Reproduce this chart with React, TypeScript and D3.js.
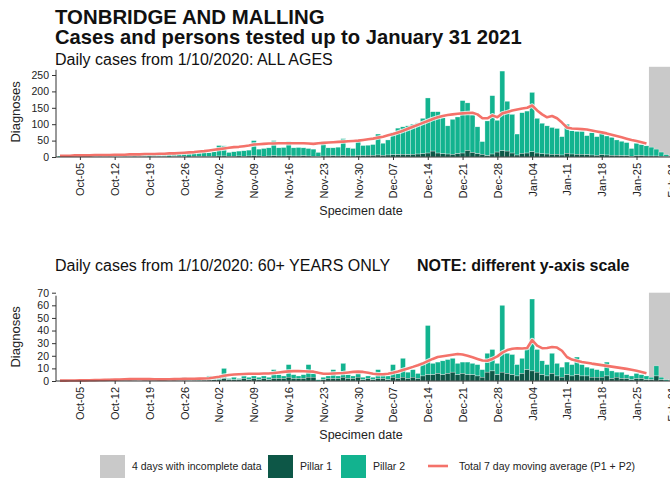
import { useEffect, useRef } from "react";
import * as d3 from "d3";

const FONT = '"Liberation Sans", Arial, Helvetica, sans-serif';
const W = 670;
const H = 483;

const START = Date.UTC(2020, 9, 1);
const AXIS_END = Date.UTC(2021, 1, 1);
const DAY = 86400000;
const INCOMPLETE_DAYS = 4;

const COLOR_P1 = "#0d5747";
const COLOR_P2 = "#12b38f";
const COLOR_MA = "#f4726a";
const COLOR_GREY = "#c9c9c9";

// ALL AGES: pillar 1, pillar 2 per specimen date (1 Oct 2020 - 31 Jan 2021)
const allP1Oct = [0, 1, 0, 0, 1, 0, 0, 1, 0, 1, 0, 0, 1, 0, 1, 0, 1, 1, 0, 1, 1, 1, 0, 1, 2, 1, 0, 2, 1, 2, 1];
const allP1Nov = [2, 3, 3, 2, 2, 3, 2, 3, 4, 3, 2, 3, 4, 3, 3, 4, 3, 3, 4, 3, 2, 1, 3, 3, 4, 3, 4, 3, 3, 4];
const allP1Dec = [4, 5, 5, 6, 5, 6, 7, 7, 8, 7, 8, 9, 10, 12, 18, 12, 10, 9, 8, 10, 12, 20, 14, 10, 8, 4, 9, 15, 19, 18, 12];
const allP1Jan = [6, 11, 12, 16, 12, 10, 9, 8, 8, 6, 11, 9, 8, 8, 7, 6, 5, 7, 6, 5, 5, 4, 4, 2, 4, 4, 3, 3, 3, 2, 1];

const allP2Oct = [3, 4, 2, 4, 5, 3, 4, 4, 4, 5, 7, 3, 4, 6, 7, 6, 8, 6, 10, 11, 7, 10, 9, 12, 10, 13, 10, 13, 11, 12, 12];
const allP2Nov = [14, 32, 31, 12, 14, 15, 17, 18, 46, 21, 24, 25, 46, 25, 26, 44, 25, 26, 24, 23, 22, 13, 44, 25, 24, 27, 52, 25, 23, 49];
const allP2Dec = [31, 31, 33, 64, 37, 46, 68, 81, 84, 88, 92, 95, 108, 168, 120, 126, 110, 86, 107, 112, 160, 145, 114, 82, 39, 106, 178, 97, 243, 152, 118];
const allP2Jan = [64, 124, 128, 181, 106, 93, 86, 82, 79, 56, 89, 71, 70, 70, 58, 68, 57, 65, 58, 55, 47, 44, 40, 24, 38, 34, 31, 27, 21, 13, 6];

// 7 day moving average (ends before the incomplete days)
const allMaOct = [4, 4, 4, 5, 5, 5, 5, 6, 6, 6, 6, 7, 7, 7, 8, 8, 8, 9, 9, 9, 10, 10, 11, 11, 12, 13, 14, 15, 17, 18, 20];
const allMaNov = [22, 24, 26, 28, 30, 31, 33, 35, 38, 39, 40, 41, 41, 42, 42, 42, 42, 42, 42, 41, 40, 42, 43, 44, 45, 46, 47, 48, 49, 50];
const allMaDec = [52, 54, 56, 59, 62, 66, 70, 75, 80, 86, 92, 98, 104, 110, 116, 121, 125, 128, 130, 132, 133, 134, 135, 130, 118, 118, 127, 121, 133, 137, 142];
const allMaJan = [145, 148, 150, 157, 142, 130, 121, 125, 118, 105, 90, 87, 86, 85, 84, 81, 78, 75, 72, 68, 64, 60, 56, 52, 49, 45, 41];

// 60+ YEARS ONLY
const oldP1Oct = [0, 0, 0, 0, 0, 1, 0, 0, 0, 0, 1, 0, 0, 0, 1, 0, 0, 1, 0, 0, 1, 0, 0, 1, 0, 1, 0, 1, 0, 1, 1];
const oldP1Nov = [1, 1, 2, 1, 1, 1, 2, 1, 2, 1, 2, 1, 2, 2, 2, 3, 2, 2, 2, 3, 3, 0, 1, 2, 2, 2, 3, 2, 2, 3];
const oldP1Dec = [1, 2, 1, 2, 2, 1, 3, 2, 3, 2, 3, 2, 4, 5, 5, 6, 5, 6, 7, 5, 6, 5, 5, 4, 3, 7, 8, 5, 7, 6, 5];
const oldP1Jan = [4, 6, 9, 8, 7, 5, 4, 6, 4, 3, 5, 4, 5, 4, 4, 3, 3, 3, 4, 2, 3, 2, 2, 1, 2, 2, 1, 1, 4, 1, 0];

const oldP2Oct = [0, 1, 0, 0, 0, 0, 0, 0, 1, 0, 1, 1, 0, 1, 1, 1, 0, 1, 1, 1, 1, 1, 0, 1, 1, 2, 1, 1, 1, 1, 3];
const oldP2Nov = [2, 2, 8, 1, 2, 1, 2, 2, 2, 2, 2, 2, 7, 3, 2, 10, 3, 2, 3, 10, 3, 1, 2, 2, 7, 2, 11, 3, 2, 3];
const oldP2Dec = [2, 2, 2, 7, 3, 3, 10, 4, 15, 5, 6, 4, 11, 39, 9, 9, 11, 11, 11, 9, 9, 10, 9, 9, 6, 15, 17, 9, 53, 16, 16];
const oldP2Jan = [9, 12, 17, 57, 18, 11, 9, 16, 10, 8, 10, 9, 14, 9, 7, 7, 6, 5, 11, 6, 4, 5, 3, 3, 4, 3, 3, 2, 8, 2, 1];

const oldMaOct = [0.3, 0.3, 0.4, 0.4, 0.5, 0.5, 0.6, 0.7, 0.8, 0.9, 1.0, 1.1, 1.2, 1.4, 1.5, 1.6, 1.6, 1.5, 1.5, 1.4, 1.3, 1.3, 1.4, 1.5, 1.6, 1.7, 1.8, 1.8, 1.9, 2.0, 2.2];
const oldMaNov = [2.8, 3.4, 4.2, 4.8, 5.2, 5.4, 5.6, 5.8, 5.8, 5.8, 5.9, 6.0, 6.3, 6.8, 7.2, 7.6, 7.8, 7.8, 7.7, 7.5, 7.4, 6.5, 5.8, 5.8, 6.0, 6.2, 6.4, 6.8, 7.2, 7.4];
const oldMaDec = [7.2, 6.5, 5.8, 5.4, 5.3, 5.8, 6.6, 7.5, 8.8, 10.0, 11.2, 12.5, 14.0, 15.8, 17.5, 19.0, 19.6, 20.2, 20.8, 21.4, 21.0, 20.0, 18.8, 17.5, 16.2, 16.0, 17.5, 19.5, 22.5, 24.5, 25.5];
const oldMaJan = [26.0, 25.8, 26.2, 32.5, 28.0, 26.0, 26.2, 27.0, 26.5, 24.0, 19.0, 17.0, 16.0, 15.0, 14.5, 13.8, 13.2, 12.6, 12.0, 11.4, 10.8, 10.2, 9.6, 8.9, 8.2, 7.2, 6.2];

const allTicks = [0, 50, 100, 150, 200, 250];
const oldTicks = [0, 10, 20, 30, 40, 50, 60, 70];

const allP1 = [...allP1Oct, ...allP1Nov, ...allP1Dec, ...allP1Jan];
const allP2 = [...allP2Oct, ...allP2Nov, ...allP2Dec, ...allP2Jan];
const allMa = [...allMaOct, ...allMaNov, ...allMaDec, ...allMaJan];
const oldP1 = [...oldP1Oct, ...oldP1Nov, ...oldP1Dec, ...oldP1Jan];
const oldP2 = [...oldP2Oct, ...oldP2Nov, ...oldP2Dec, ...oldP2Jan];
const oldMa = [...oldMaOct, ...oldMaNov, ...oldMaDec, ...oldMaJan];

const dates = allP1.map((_, i) => new Date(START + i * DAY));

type Panel = {
  p1: number[];
  p2: number[];
  ma: number[];
  yMax: number;
  ticks: number[];
  bottom: number;
  top: number;
};

function drawPanel(svg: d3.Selection<SVGSVGElement, unknown, null, undefined>, p: Panel) {
  const x = d3
    .scaleUtc()
    .domain([new Date(START), new Date(AXIS_END)])
    .range([60, 60 + ((AXIS_END - START) / DAY) * 4.97]);
  const bw = x(dates[1]) - x(dates[0]);
  const y = d3.scaleLinear().domain([0, p.yMax]).range([p.bottom, p.top]);
  const g = svg.append("g");

  const incStart = dates[dates.length - INCOMPLETE_DAYS];
  g.append("rect")
    .attr("x", x(incStart) - bw / 2)
    .attr("y", y(p.yMax))
    .attr("width", W - (x(incStart) - bw / 2) + 10)
    .attr("height", y(0) - y(p.yMax))
    .attr("fill", COLOR_GREY);

  const bars = g.append("g").attr("stroke", "#ffffff").attr("stroke-width", 0.45).attr("stroke-opacity", 0.7);
  bars
    .selectAll("rect.p2")
    .data(dates)
    .join("rect")
    .attr("class", "p2")
    .attr("x", (d) => x(d) - bw / 2)
    .attr("width", bw)
    .attr("y", (_, i) => y(p.p1[i] + p.p2[i]))
    .attr("height", (_, i) => y(p.p1[i]) - y(p.p1[i] + p.p2[i]))
    .attr("fill", COLOR_P2);
  bars
    .selectAll("rect.p1")
    .data(dates)
    .join("rect")
    .attr("class", "p1")
    .attr("x", (d) => x(d) - bw / 2)
    .attr("width", bw)
    .attr("y", (_, i) => y(p.p1[i]))
    .attr("height", (_, i) => y(0) - y(p.p1[i]))
    .attr("fill", COLOR_P1);

  const line = d3
    .line<number>()
    .x((_, i) => x(dates[i]))
    .y((v) => y(v));
  g.append("path").attr("d", line(p.ma)).attr("fill", "none").attr("stroke", "#ffffff").attr("stroke-width", 4.5).attr("stroke-opacity", 0.8).attr("stroke-linejoin", "round");
  g.append("path").attr("d", line(p.ma)).attr("fill", "none").attr("stroke", COLOR_MA).attr("stroke-width", 2.6).attr("stroke-linejoin", "round");

  // axes
  const yAxis = g
    .append("g")
    .attr("transform", "translate(56,0)")
    .call(d3.axisLeft(y).tickValues(p.ticks).tickSize(4).tickPadding(3));
  yAxis.select(".domain").remove();
  yAxis.selectAll("line").attr("stroke", "#333");
  yAxis.selectAll("text").attr("font-family", FONT).attr("font-size", 10.5).attr("fill", "#222");
  g.append("line").attr("x1", 56).attr("x2", 56).attr("y1", y(0)).attr("y2", y(p.yMax) + 3).attr("stroke", "#333");

  const xAxis = g
    .append("g")
    .attr("transform", `translate(0,${y(0)})`)
    .call(
      d3
        .axisBottom(x)
        .ticks(d3.utcMonday.every(1))
        .tickFormat((d) => d3.utcFormat("%b-%d")(d as Date))
        .tickSize(3)
    );
  xAxis.select(".domain").remove();
  xAxis.selectAll("line").attr("stroke", "#333");
  xAxis
    .selectAll("text")
    .attr("font-family", FONT)
    .attr("font-size", 11)
    .attr("fill", "#222")
    .attr("transform", "rotate(-90)")
    .attr("x", -6)
    .attr("y", 0)
    .attr("dy", "0.35em")
    .attr("text-anchor", "end");
  g.append("line").attr("x1", 56).attr("x2", W).attr("y1", y(0)).attr("y2", y(0)).attr("stroke", "#333");

  g.append("text")
    .attr("transform", `translate(20,${(y(0) + y(p.yMax)) / 2}) rotate(-90)`)
    .attr("text-anchor", "middle")
    .attr("font-family", FONT)
    .attr("font-size", 13)
    .attr("fill", "#222")
    .text("Diagnoses");
  g.append("text")
    .attr("x", 361)
    .attr("y", y(0) + 58)
    .attr("text-anchor", "middle")
    .attr("font-family", FONT)
    .attr("font-size", 12.5)
    .attr("fill", "#222")
    .text("Specimen date");
}

export default function App() {
  const ref = useRef<SVGSVGElement>(null);

  useEffect(() => {
    if (!ref.current) return;
    const svg = d3.select(ref.current);
    svg.selectAll("*").remove();

    const t = svg.append("g").attr("font-family", FONT).attr("fill", "#111");
    t.append("text").attr("x", 55).attr("y", 24).attr("font-size", 20.4).attr("font-weight", "bold").text("TONBRIDGE AND MALLING");
    t.append("text").attr("x", 55).attr("y", 44).attr("font-size", 20.2).attr("font-weight", "bold").text("Cases and persons tested up to January 31 2021");
    t.append("text").attr("x", 55).attr("y", 65).attr("font-size", 16).text("Daily cases from 1/10/2020: ALL AGES");
    t.append("text").attr("x", 55).attr("y", 271).attr("font-size", 16).text("Daily cases from 1/10/2020: 60+ YEARS ONLY");
    t.append("text").attr("x", 417).attr("y", 271).attr("font-size", 16).attr("font-weight", "bold").text("NOTE: different y-axis scale");

    drawPanel(svg, { p1: allP1, p2: allP2, ma: allMa, yMax: 275, ticks: allTicks, bottom: 157, top: 66.8 });
    drawPanel(svg, { p1: oldP1, p2: oldP2, ma: oldMa, yMax: 70, ticks: oldTicks, bottom: 381, top: 292.7 });

    // legend
    const lg = svg.append("g").attr("font-family", FONT).attr("font-size", 10.5).attr("fill", "#222");
    const items = [
      { label: "4 days with incomplete data", color: COLOR_GREY, x: 100 },
      { label: "Pillar 1", color: COLOR_P1, x: 268 },
      { label: "Pillar 2", color: COLOR_P2, x: 341 },
    ];
    items.forEach((it) => {
      lg.append("rect").attr("x", it.x).attr("y", 455).attr("width", 25).attr("height", 23).attr("fill", it.color);
      lg.append("text").attr("x", it.x + 32).attr("y", 470).text(it.label);
    });
    lg.append("line").attr("x1", 428).attr("x2", 448).attr("y1", 466).attr("y2", 466).attr("stroke", COLOR_MA).attr("stroke-width", 2.6);
    lg.append("text").attr("x", 459).attr("y", 470).text("Total 7 day moving average (P1 + P2)");
  }, []);

  return (
    <svg
      ref={ref}
      width={W}
      height={H}
      style={{ position: "absolute", left: 0, top: 0, background: "#fff", overflow: "hidden" }}
    />
  );
}
